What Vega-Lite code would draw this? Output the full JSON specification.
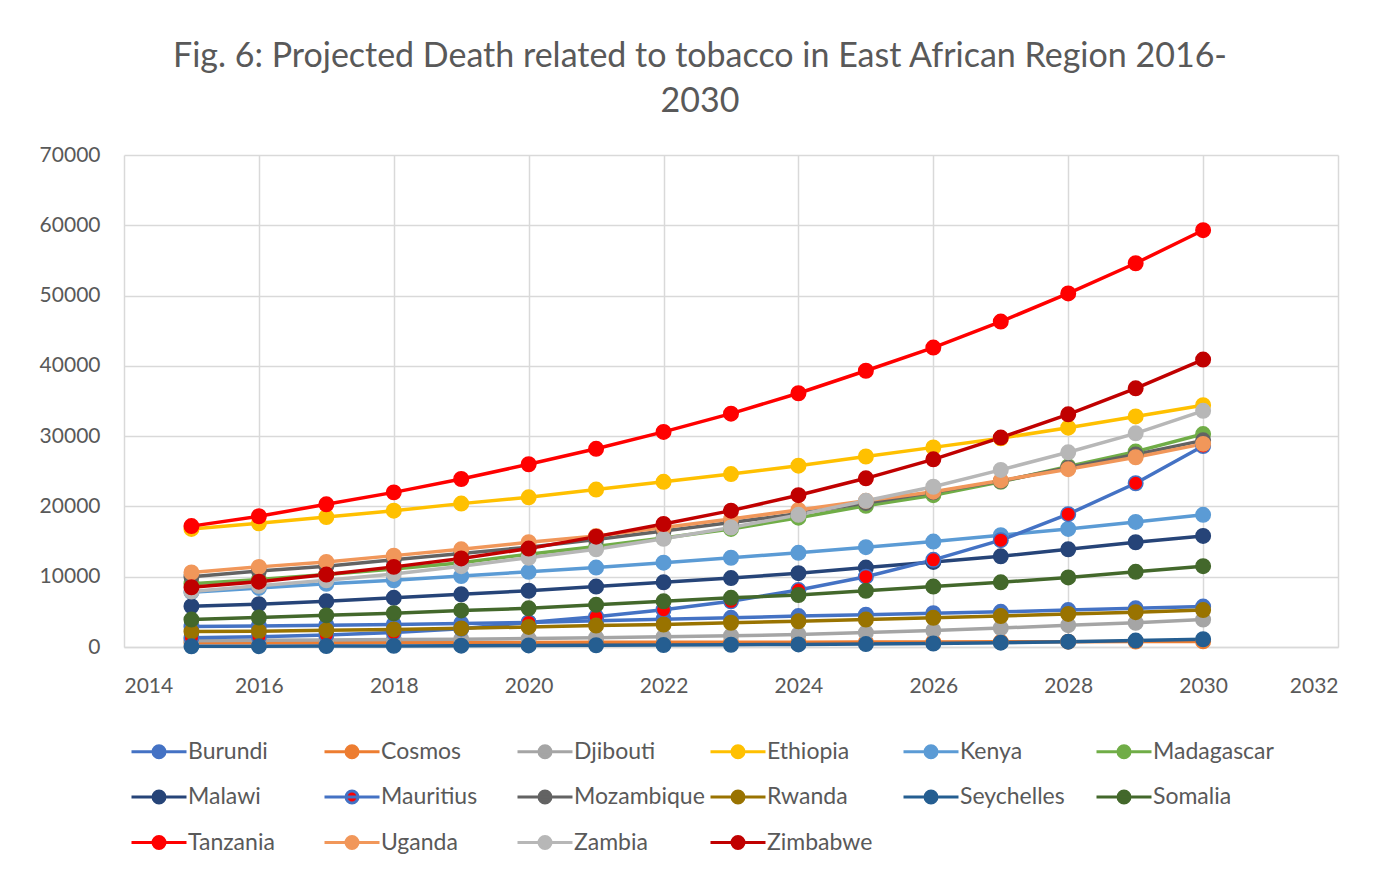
{
  "$schema": "https://vega.github.io/schema/vega-lite/v6.json",
  "width": 1214,
  "height": 492,
  "autosize": {"type": "none"},
  "padding": {"left": 124, "top": 155, "right": 43, "bottom": 223},
  "background": "white",
  "title": {
    "text": ["Fig. 6: Projected Death related to tobacco in East African Region 2016-", "2030"],
    "font": "Lato",
    "fontSize": 34,
    "fontWeight": "normal",
    "color": "#595959",
    "anchor": "middle",
    "dx": -31,
    "offset": 25,
    "lineHeight": 45
  },
  "data": {
    "values": [
      {"country": "Burundi", "year": 2015, "deaths": 2900}, {"country": "Burundi", "year": 2016, "deaths": 3000}, {"country": "Burundi", "year": 2017, "deaths": 3100}, {"country": "Burundi", "year": 2018, "deaths": 3200}, {"country": "Burundi", "year": 2019, "deaths": 3350}, {"country": "Burundi", "year": 2020, "deaths": 3500}, {"country": "Burundi", "year": 2021, "deaths": 3750}, {"country": "Burundi", "year": 2022, "deaths": 3950}, {"country": "Burundi", "year": 2023, "deaths": 4150}, {"country": "Burundi", "year": 2024, "deaths": 4400}, {"country": "Burundi", "year": 2025, "deaths": 4600}, {"country": "Burundi", "year": 2026, "deaths": 4800}, {"country": "Burundi", "year": 2027, "deaths": 5000}, {"country": "Burundi", "year": 2028, "deaths": 5250}, {"country": "Burundi", "year": 2029, "deaths": 5500}, {"country": "Burundi", "year": 2030, "deaths": 5750},
      {"country": "Cosmos", "year": 2015, "deaths": 600}, {"country": "Cosmos", "year": 2016, "deaths": 610}, {"country": "Cosmos", "year": 2017, "deaths": 620}, {"country": "Cosmos", "year": 2018, "deaths": 630}, {"country": "Cosmos", "year": 2019, "deaths": 640}, {"country": "Cosmos", "year": 2020, "deaths": 650}, {"country": "Cosmos", "year": 2021, "deaths": 660}, {"country": "Cosmos", "year": 2022, "deaths": 670}, {"country": "Cosmos", "year": 2023, "deaths": 680}, {"country": "Cosmos", "year": 2024, "deaths": 690}, {"country": "Cosmos", "year": 2025, "deaths": 700}, {"country": "Cosmos", "year": 2026, "deaths": 720}, {"country": "Cosmos", "year": 2027, "deaths": 740}, {"country": "Cosmos", "year": 2028, "deaths": 760}, {"country": "Cosmos", "year": 2029, "deaths": 780}, {"country": "Cosmos", "year": 2030, "deaths": 800},
      {"country": "Djibouti", "year": 2015, "deaths": 900}, {"country": "Djibouti", "year": 2016, "deaths": 950}, {"country": "Djibouti", "year": 2017, "deaths": 1000}, {"country": "Djibouti", "year": 2018, "deaths": 1050}, {"country": "Djibouti", "year": 2019, "deaths": 1100}, {"country": "Djibouti", "year": 2020, "deaths": 1200}, {"country": "Djibouti", "year": 2021, "deaths": 1320}, {"country": "Djibouti", "year": 2022, "deaths": 1450}, {"country": "Djibouti", "year": 2023, "deaths": 1600}, {"country": "Djibouti", "year": 2024, "deaths": 1780}, {"country": "Djibouti", "year": 2025, "deaths": 2050}, {"country": "Djibouti", "year": 2026, "deaths": 2350}, {"country": "Djibouti", "year": 2027, "deaths": 2700}, {"country": "Djibouti", "year": 2028, "deaths": 3100}, {"country": "Djibouti", "year": 2029, "deaths": 3450}, {"country": "Djibouti", "year": 2030, "deaths": 3900},
      {"country": "Ethiopia", "year": 2015, "deaths": 16800}, {"country": "Ethiopia", "year": 2016, "deaths": 17600}, {"country": "Ethiopia", "year": 2017, "deaths": 18500}, {"country": "Ethiopia", "year": 2018, "deaths": 19400}, {"country": "Ethiopia", "year": 2019, "deaths": 20400}, {"country": "Ethiopia", "year": 2020, "deaths": 21300}, {"country": "Ethiopia", "year": 2021, "deaths": 22400}, {"country": "Ethiopia", "year": 2022, "deaths": 23500}, {"country": "Ethiopia", "year": 2023, "deaths": 24600}, {"country": "Ethiopia", "year": 2024, "deaths": 25800}, {"country": "Ethiopia", "year": 2025, "deaths": 27100}, {"country": "Ethiopia", "year": 2026, "deaths": 28400}, {"country": "Ethiopia", "year": 2027, "deaths": 29700}, {"country": "Ethiopia", "year": 2028, "deaths": 31200}, {"country": "Ethiopia", "year": 2029, "deaths": 32800}, {"country": "Ethiopia", "year": 2030, "deaths": 34400},
      {"country": "Kenya", "year": 2015, "deaths": 7800}, {"country": "Kenya", "year": 2016, "deaths": 8400}, {"country": "Kenya", "year": 2017, "deaths": 9000}, {"country": "Kenya", "year": 2018, "deaths": 9500}, {"country": "Kenya", "year": 2019, "deaths": 10100}, {"country": "Kenya", "year": 2020, "deaths": 10700}, {"country": "Kenya", "year": 2021, "deaths": 11300}, {"country": "Kenya", "year": 2022, "deaths": 12000}, {"country": "Kenya", "year": 2023, "deaths": 12700}, {"country": "Kenya", "year": 2024, "deaths": 13400}, {"country": "Kenya", "year": 2025, "deaths": 14200}, {"country": "Kenya", "year": 2026, "deaths": 15000}, {"country": "Kenya", "year": 2027, "deaths": 15900}, {"country": "Kenya", "year": 2028, "deaths": 16800}, {"country": "Kenya", "year": 2029, "deaths": 17800}, {"country": "Kenya", "year": 2030, "deaths": 18800},
      {"country": "Madagascar", "year": 2015, "deaths": 9000}, {"country": "Madagascar", "year": 2016, "deaths": 9600}, {"country": "Madagascar", "year": 2017, "deaths": 10300}, {"country": "Madagascar", "year": 2018, "deaths": 11100}, {"country": "Madagascar", "year": 2019, "deaths": 12000}, {"country": "Madagascar", "year": 2020, "deaths": 13200}, {"country": "Madagascar", "year": 2021, "deaths": 14300}, {"country": "Madagascar", "year": 2022, "deaths": 15500}, {"country": "Madagascar", "year": 2023, "deaths": 16800}, {"country": "Madagascar", "year": 2024, "deaths": 18400}, {"country": "Madagascar", "year": 2025, "deaths": 20100}, {"country": "Madagascar", "year": 2026, "deaths": 21600}, {"country": "Madagascar", "year": 2027, "deaths": 23500}, {"country": "Madagascar", "year": 2028, "deaths": 25700}, {"country": "Madagascar", "year": 2029, "deaths": 27800}, {"country": "Madagascar", "year": 2030, "deaths": 30300},
      {"country": "Malawi", "year": 2015, "deaths": 5800}, {"country": "Malawi", "year": 2016, "deaths": 6100}, {"country": "Malawi", "year": 2017, "deaths": 6500}, {"country": "Malawi", "year": 2018, "deaths": 7000}, {"country": "Malawi", "year": 2019, "deaths": 7500}, {"country": "Malawi", "year": 2020, "deaths": 8000}, {"country": "Malawi", "year": 2021, "deaths": 8600}, {"country": "Malawi", "year": 2022, "deaths": 9200}, {"country": "Malawi", "year": 2023, "deaths": 9800}, {"country": "Malawi", "year": 2024, "deaths": 10500}, {"country": "Malawi", "year": 2025, "deaths": 11300}, {"country": "Malawi", "year": 2026, "deaths": 12100}, {"country": "Malawi", "year": 2027, "deaths": 12900}, {"country": "Malawi", "year": 2028, "deaths": 13900}, {"country": "Malawi", "year": 2029, "deaths": 14900}, {"country": "Malawi", "year": 2030, "deaths": 15800},
      {"country": "Mauritius", "year": 2015, "deaths": 1300}, {"country": "Mauritius", "year": 2016, "deaths": 1450}, {"country": "Mauritius", "year": 2017, "deaths": 1700}, {"country": "Mauritius", "year": 2018, "deaths": 2050}, {"country": "Mauritius", "year": 2019, "deaths": 2600}, {"country": "Mauritius", "year": 2020, "deaths": 3500}, {"country": "Mauritius", "year": 2021, "deaths": 4300}, {"country": "Mauritius", "year": 2022, "deaths": 5300}, {"country": "Mauritius", "year": 2023, "deaths": 6500}, {"country": "Mauritius", "year": 2024, "deaths": 8100}, {"country": "Mauritius", "year": 2025, "deaths": 10000}, {"country": "Mauritius", "year": 2026, "deaths": 12400}, {"country": "Mauritius", "year": 2027, "deaths": 15200}, {"country": "Mauritius", "year": 2028, "deaths": 18900}, {"country": "Mauritius", "year": 2029, "deaths": 23300}, {"country": "Mauritius", "year": 2030, "deaths": 28600},
      {"country": "Mozambique", "year": 2015, "deaths": 10000}, {"country": "Mozambique", "year": 2016, "deaths": 10800}, {"country": "Mozambique", "year": 2017, "deaths": 11500}, {"country": "Mozambique", "year": 2018, "deaths": 12400}, {"country": "Mozambique", "year": 2019, "deaths": 13300}, {"country": "Mozambique", "year": 2020, "deaths": 14200}, {"country": "Mozambique", "year": 2021, "deaths": 15300}, {"country": "Mozambique", "year": 2022, "deaths": 16500}, {"country": "Mozambique", "year": 2023, "deaths": 17700}, {"country": "Mozambique", "year": 2024, "deaths": 19000}, {"country": "Mozambique", "year": 2025, "deaths": 20500}, {"country": "Mozambique", "year": 2026, "deaths": 22000}, {"country": "Mozambique", "year": 2027, "deaths": 23600}, {"country": "Mozambique", "year": 2028, "deaths": 25500}, {"country": "Mozambique", "year": 2029, "deaths": 27400}, {"country": "Mozambique", "year": 2030, "deaths": 29400},
      {"country": "Rwanda", "year": 2015, "deaths": 2200}, {"country": "Rwanda", "year": 2016, "deaths": 2250}, {"country": "Rwanda", "year": 2017, "deaths": 2400}, {"country": "Rwanda", "year": 2018, "deaths": 2500}, {"country": "Rwanda", "year": 2019, "deaths": 2650}, {"country": "Rwanda", "year": 2020, "deaths": 2850}, {"country": "Rwanda", "year": 2021, "deaths": 3050}, {"country": "Rwanda", "year": 2022, "deaths": 3200}, {"country": "Rwanda", "year": 2023, "deaths": 3450}, {"country": "Rwanda", "year": 2024, "deaths": 3650}, {"country": "Rwanda", "year": 2025, "deaths": 3900}, {"country": "Rwanda", "year": 2026, "deaths": 4150}, {"country": "Rwanda", "year": 2027, "deaths": 4400}, {"country": "Rwanda", "year": 2028, "deaths": 4700}, {"country": "Rwanda", "year": 2029, "deaths": 4950}, {"country": "Rwanda", "year": 2030, "deaths": 5250},
      {"country": "Seychelles", "year": 2015, "deaths": 100}, {"country": "Seychelles", "year": 2016, "deaths": 120}, {"country": "Seychelles", "year": 2017, "deaths": 140}, {"country": "Seychelles", "year": 2018, "deaths": 160}, {"country": "Seychelles", "year": 2019, "deaths": 190}, {"country": "Seychelles", "year": 2020, "deaths": 220}, {"country": "Seychelles", "year": 2021, "deaths": 250}, {"country": "Seychelles", "year": 2022, "deaths": 280}, {"country": "Seychelles", "year": 2023, "deaths": 320}, {"country": "Seychelles", "year": 2024, "deaths": 360}, {"country": "Seychelles", "year": 2025, "deaths": 420}, {"country": "Seychelles", "year": 2026, "deaths": 500}, {"country": "Seychelles", "year": 2027, "deaths": 620}, {"country": "Seychelles", "year": 2028, "deaths": 760}, {"country": "Seychelles", "year": 2029, "deaths": 920}, {"country": "Seychelles", "year": 2030, "deaths": 1100},
      {"country": "Somalia", "year": 2015, "deaths": 3900}, {"country": "Somalia", "year": 2016, "deaths": 4200}, {"country": "Somalia", "year": 2017, "deaths": 4500}, {"country": "Somalia", "year": 2018, "deaths": 4800}, {"country": "Somalia", "year": 2019, "deaths": 5200}, {"country": "Somalia", "year": 2020, "deaths": 5500}, {"country": "Somalia", "year": 2021, "deaths": 6000}, {"country": "Somalia", "year": 2022, "deaths": 6500}, {"country": "Somalia", "year": 2023, "deaths": 7000}, {"country": "Somalia", "year": 2024, "deaths": 7400}, {"country": "Somalia", "year": 2025, "deaths": 8000}, {"country": "Somalia", "year": 2026, "deaths": 8600}, {"country": "Somalia", "year": 2027, "deaths": 9200}, {"country": "Somalia", "year": 2028, "deaths": 9900}, {"country": "Somalia", "year": 2029, "deaths": 10700}, {"country": "Somalia", "year": 2030, "deaths": 11500},
      {"country": "Tanzania", "year": 2015, "deaths": 17200}, {"country": "Tanzania", "year": 2016, "deaths": 18600}, {"country": "Tanzania", "year": 2017, "deaths": 20300}, {"country": "Tanzania", "year": 2018, "deaths": 22000}, {"country": "Tanzania", "year": 2019, "deaths": 23900}, {"country": "Tanzania", "year": 2020, "deaths": 26000}, {"country": "Tanzania", "year": 2021, "deaths": 28200}, {"country": "Tanzania", "year": 2022, "deaths": 30600}, {"country": "Tanzania", "year": 2023, "deaths": 33200}, {"country": "Tanzania", "year": 2024, "deaths": 36100}, {"country": "Tanzania", "year": 2025, "deaths": 39300}, {"country": "Tanzania", "year": 2026, "deaths": 42600}, {"country": "Tanzania", "year": 2027, "deaths": 46300}, {"country": "Tanzania", "year": 2028, "deaths": 50300}, {"country": "Tanzania", "year": 2029, "deaths": 54600}, {"country": "Tanzania", "year": 2030, "deaths": 59300},
      {"country": "Uganda", "year": 2015, "deaths": 10600}, {"country": "Uganda", "year": 2016, "deaths": 11400}, {"country": "Uganda", "year": 2017, "deaths": 12100}, {"country": "Uganda", "year": 2018, "deaths": 13000}, {"country": "Uganda", "year": 2019, "deaths": 13900}, {"country": "Uganda", "year": 2020, "deaths": 14900}, {"country": "Uganda", "year": 2021, "deaths": 15800}, {"country": "Uganda", "year": 2022, "deaths": 17000}, {"country": "Uganda", "year": 2023, "deaths": 18200}, {"country": "Uganda", "year": 2024, "deaths": 19500}, {"country": "Uganda", "year": 2025, "deaths": 20800}, {"country": "Uganda", "year": 2026, "deaths": 22100}, {"country": "Uganda", "year": 2027, "deaths": 23700}, {"country": "Uganda", "year": 2028, "deaths": 25300}, {"country": "Uganda", "year": 2029, "deaths": 27000}, {"country": "Uganda", "year": 2030, "deaths": 28900},
      {"country": "Zambia", "year": 2015, "deaths": 7900}, {"country": "Zambia", "year": 2016, "deaths": 8700}, {"country": "Zambia", "year": 2017, "deaths": 9500}, {"country": "Zambia", "year": 2018, "deaths": 10400}, {"country": "Zambia", "year": 2019, "deaths": 11500}, {"country": "Zambia", "year": 2020, "deaths": 12700}, {"country": "Zambia", "year": 2021, "deaths": 13900}, {"country": "Zambia", "year": 2022, "deaths": 15400}, {"country": "Zambia", "year": 2023, "deaths": 17000}, {"country": "Zambia", "year": 2024, "deaths": 18800}, {"country": "Zambia", "year": 2025, "deaths": 20800}, {"country": "Zambia", "year": 2026, "deaths": 22800}, {"country": "Zambia", "year": 2027, "deaths": 25200}, {"country": "Zambia", "year": 2028, "deaths": 27700}, {"country": "Zambia", "year": 2029, "deaths": 30400}, {"country": "Zambia", "year": 2030, "deaths": 33600},
      {"country": "Zimbabwe", "year": 2015, "deaths": 8500}, {"country": "Zimbabwe", "year": 2016, "deaths": 9300}, {"country": "Zimbabwe", "year": 2017, "deaths": 10300}, {"country": "Zimbabwe", "year": 2018, "deaths": 11400}, {"country": "Zimbabwe", "year": 2019, "deaths": 12600}, {"country": "Zimbabwe", "year": 2020, "deaths": 14000}, {"country": "Zimbabwe", "year": 2021, "deaths": 15700}, {"country": "Zimbabwe", "year": 2022, "deaths": 17500}, {"country": "Zimbabwe", "year": 2023, "deaths": 19400}, {"country": "Zimbabwe", "year": 2024, "deaths": 21600}, {"country": "Zimbabwe", "year": 2025, "deaths": 24000}, {"country": "Zimbabwe", "year": 2026, "deaths": 26700}, {"country": "Zimbabwe", "year": 2027, "deaths": 29800}, {"country": "Zimbabwe", "year": 2028, "deaths": 33100}, {"country": "Zimbabwe", "year": 2029, "deaths": 36800}, {"country": "Zimbabwe", "year": 2030, "deaths": 40900}
    ]
  },
  "encoding": {
    "x": {
      "field": "year",
      "type": "quantitative",
      "scale": {"domain": [2014, 2032], "nice": false, "zero": false},
      "axis": {
        "values": [2014, 2016, 2018, 2020, 2022, 2024, 2026, 2028, 2030, 2032],
        "format": "d",
        "title": null,
        "ticks": false,
        "labelPadding": 28,
        "domainColor": "#D9D9D9",
        "domainWidth": 1.5
      }
    },
    "y": {
      "field": "deaths",
      "type": "quantitative",
      "scale": {"domain": [0, 70000], "nice": false},
      "axis": {
        "values": [0, 10000, 20000, 30000, 40000, 50000, 60000, 70000],
        "format": "d",
        "title": null,
        "ticks": false,
        "domain": false,
        "labelPadding": 24
      }
    }
  },
  "layer": [
    {
      "mark": {"type": "line", "strokeWidth": 3.5, "strokeJoin": "round"},
      "encoding": {
        "stroke": {
          "field": "country",
          "type": "nominal",
          "scale": {
            "domain": ["Burundi", "Cosmos", "Djibouti", "Ethiopia", "Kenya", "Madagascar", "Malawi", "Mauritius", "Mozambique", "Rwanda", "Seychelles", "Somalia", "Tanzania", "Uganda", "Zambia", "Zimbabwe"],
            "range": ["#4472C4", "#ED7D31", "#A5A5A5", "#FFC000", "#5B9BD5", "#70AD47", "#264478", "#4472C4", "#636363", "#997300", "#255E91", "#43682B", "#FF0000", "#F1975A", "#B7B7B7", "#C00000"]
          },
          "legend": {"orient": "none", "legendX": 6, "legendY": 585}
        }
      }
    },
    {
      "mark": {"type": "point", "shape": "circle", "filled": true, "size": 210, "strokeWidth": 1.5, "opacity": 1},
      "encoding": {
        "stroke": {
          "field": "country",
          "type": "nominal",
          "scale": {
            "domain": ["Burundi", "Cosmos", "Djibouti", "Ethiopia", "Kenya", "Madagascar", "Malawi", "Mauritius", "Mozambique", "Rwanda", "Seychelles", "Somalia", "Tanzania", "Uganda", "Zambia", "Zimbabwe"],
            "range": ["#4472C4", "#ED7D31", "#A5A5A5", "#FFC000", "#5B9BD5", "#70AD47", "#264478", "#4472C4", "#636363", "#997300", "#255E91", "#43682B", "#FF0000", "#F1975A", "#B7B7B7", "#C00000"]
          },
          "legend": {"orient": "none", "legendX": 6, "legendY": 585}
        },
        "fill": {
          "field": "country",
          "type": "nominal",
          "scale": {
            "domain": ["Burundi", "Cosmos", "Djibouti", "Ethiopia", "Kenya", "Madagascar", "Malawi", "Mauritius", "Mozambique", "Rwanda", "Seychelles", "Somalia", "Tanzania", "Uganda", "Zambia", "Zimbabwe"],
            "range": ["#4472C4", "#ED7D31", "#A5A5A5", "#FFC000", "#5B9BD5", "#70AD47", "#264478", "#FF0000", "#636363", "#997300", "#255E91", "#43682B", "#FF0000", "#F1975A", "#B7B7B7", "#C00000"]
          },
          "legend": {"orient": "none", "legendX": 6, "legendY": 585}
        }
      }
    }
  ],
  "config": {
    "font": "Lato",
    "view": {"stroke": null},
    "axis": {
      "labelFont": "Lato",
      "labelFontSize": 21,
      "labelColor": "#595959",
      "gridColor": "#D9D9D9",
      "gridWidth": 1.5,
      "gridOpacity": 1
    },
    "legend": {
      "title": null,
      "direction": "horizontal",
      "columns": 6,
      "gridAlign": "all",
      "columnPadding": -1,
      "rowPadding": 20.5,
      "padding": 0,
      "symbolType": "M-1,0L4.5,0M2.35,0A0.6,0.6,0,1,1,1.15,0A0.6,0.6,0,1,1,2.35,0Z",
      "symbolSize": 400,
      "symbolStrokeWidth": 3,
      "symbolOpacity": 1,
      "labelFont": "Lato",
      "labelFontSize": 23,
      "labelColor": "#595959",
      "labelOffset": 35,
      "labelLimit": 0
    }
  }
}
